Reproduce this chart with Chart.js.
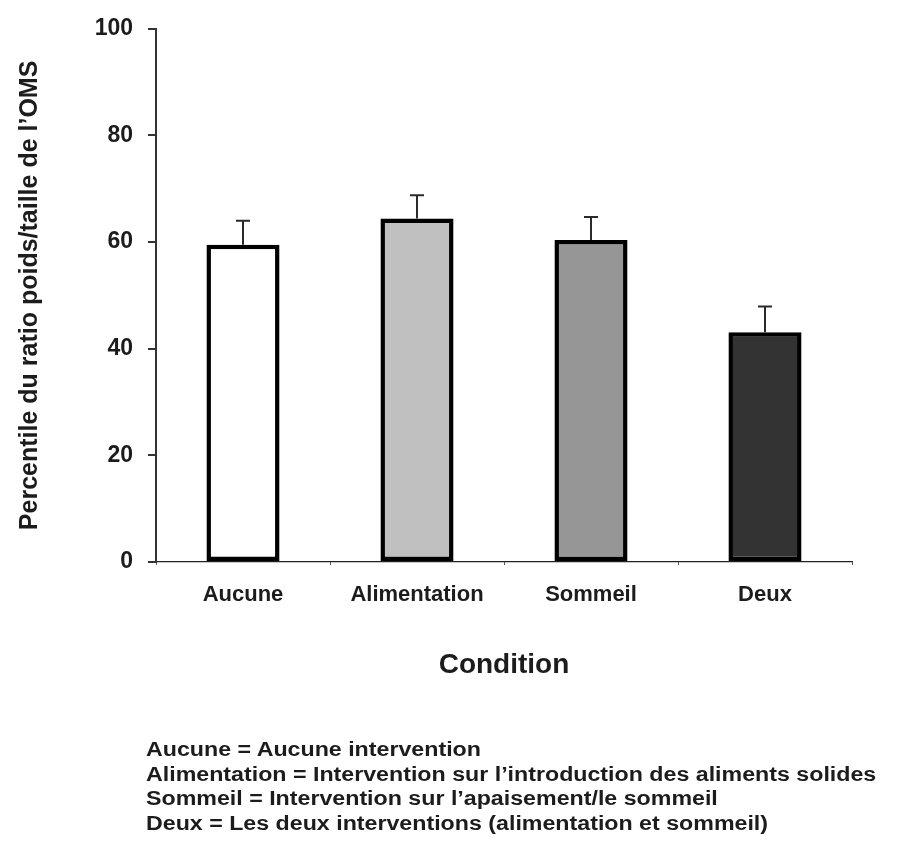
<!DOCTYPE html>
<html>
<head>
<meta charset="utf-8">
<script src="https://cdn.jsdelivr.net/npm/chart.js@4"></script>
<style>
  body { margin: 0; background: #fff; }
  #wrap { position: relative; width: 902px; height: 841px; }
  #chart { position: absolute; left: 0; top: 0; }
  #notes {
    position: absolute;
    left: 146px;
    top: 737px;
    font-family: "Liberation Sans", Arial, sans-serif;
    font-weight: bold;
    font-size: 20px;
    line-height: 24.5px;
    color: #1c1c1c;
    white-space: nowrap;
    transform: scaleX(1.16);
    transform-origin: left top;
  }
</style>
</head>
<body>
<div id="wrap">
  <canvas id="chart" width="902" height="841"></canvas>
  <div id="notes"></div>
</div>
<script>
// data
const conditions = ["Aucune", "Alimentation", "Sommeil", "Deux"];
const percentiles = [59.5, 64.4, 60.4, 43.1];
const errors = [4.5, 4.4, 4.3, 4.8];
const barColors = ["#ffffff", "#c0c0c0", "#969696", "#333333"];
const yTicks = [0, 20, 40, 60, 80, 100];
const notes = [
  "Aucune = Aucune intervention",
  "Alimentation = Intervention sur l\u2019introduction des aliments solides",
  "Sommeil = Intervention sur l\u2019apaisement/le sommeil",
  "Deux = Les deux interventions (alimentation et sommeil)",
];

const textColor = "#1c1c1c";
const fontFamily = "'Liberation Sans', Arial, sans-serif";

// footnote below the chart
const notesDiv = document.getElementById("notes");
notes.forEach((line) => {
  const d = document.createElement("div");
  d.textContent = line;
  notesDiv.appendChild(d);
});

// error bars (upper whisker only) drawn from the y scale
const errorBarPlugin = {
  id: "errorBars",
  afterDatasetsDraw(chart) {
    const ctx = chart.ctx;
    const yScale = chart.scales.y;
    const meta = chart.getDatasetMeta(0);
    ctx.save();
    ctx.strokeStyle = "#2a2a2a";
    ctx.lineWidth = 2;
    meta.data.forEach((bar, i) => {
      const yTop = yScale.getPixelForValue(percentiles[i]);
      const yErr = yScale.getPixelForValue(percentiles[i] + errors[i]);
      ctx.beginPath();
      ctx.moveTo(bar.x, yTop);
      ctx.lineTo(bar.x, yErr);
      ctx.moveTo(bar.x - 7, yErr);
      ctx.lineTo(bar.x + 7, yErr);
      ctx.stroke();
    });
    ctx.restore();
  },
};

new Chart(document.getElementById("chart"), {
  type: "bar",
  data: {
    labels: conditions,
    datasets: [
      {
        data: percentiles,
        backgroundColor: barColors,
        borderColor: "#000",
        borderWidth: 4.5,
        borderSkipped: false,
        barPercentage: 0.42,
        categoryPercentage: 1,
      },
    ],
  },
  options: {
    responsive: false,
    animation: false,
    layout: { padding: { top: 26, right: 50, bottom: 159, left: 0 } },
    plugins: { legend: { display: false }, tooltip: { enabled: false } },
    scales: {
      x: {
        afterFit: (s) => { s.height = 120; },
        grid: {
          drawOnChartArea: false,
          offset: true,
          tickLength: 3,
          color: "#555",
          lineWidth: 1,
        },
        border: { display: true, color: "#222", width: 1.2, dash: [1.5, 2.5] },
        ticks: {
          color: textColor,
          padding: 17,
          font: { family: fontFamily, size: 22, weight: "bold" },
        },
        title: {
          display: true,
          text: "Condition",
          color: textColor,
          padding: { top: 0, bottom: 0 },
          font: { family: fontFamily, size: 28, weight: "bold" },
        },
      },
      y: {
        min: 0,
        max: 100,
        afterFit: (s) => { s.width = 156; },
        afterBuildTicks: (s) => { s.ticks = yTicks.map((v) => ({ value: v })); },
        grid: {
          drawOnChartArea: false,
          tickLength: 8,
          color: "#333",
          lineWidth: 2,
        },
        border: { display: true, color: "#333", width: 2 },
        ticks: {
          color: textColor,
          padding: 15,
          font: { family: fontFamily, size: 23, weight: "bold" },
        },
        title: {
          display: true,
          text: "Percentile du ratio poids/taille de l\u2019OMS",
          color: textColor,
          padding: { top: 15, bottom: 0 },
          font: { family: fontFamily, size: 25, weight: "bold" },
        },
      },
    },
  },
  plugins: [errorBarPlugin],
});
</script>
</body>
</html>
